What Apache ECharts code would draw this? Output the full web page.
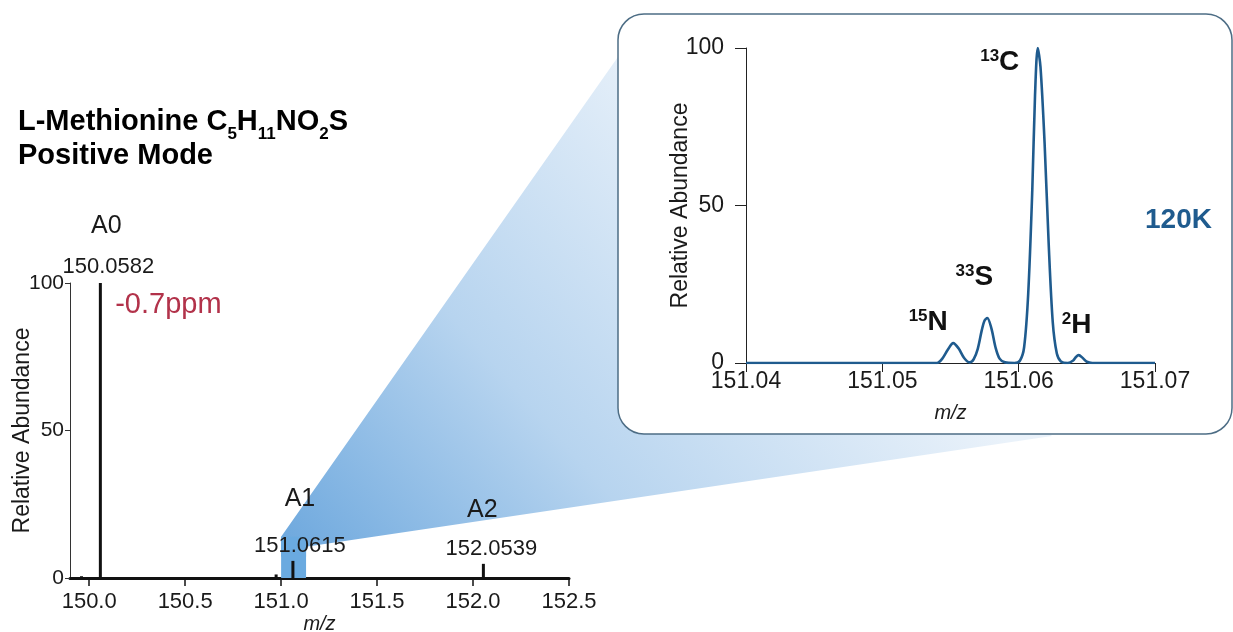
<!DOCTYPE html>
<html>
<head>
<meta charset="utf-8">
<script src="https://cdn.jsdelivr.net/npm/echarts@6/dist/echarts.min.js"></script>
<style>
  html, body { margin: 0; padding: 0; background: #fff; }
  #main { width: 1233px; height: 632px; }
</style>
</head>
<body>
<div id="main"></div>
<script>
// full spectrum, stick peaks
const mainMz = [149.96, 150.0582, 150.974, 151.0615, 152.0539];
const mainAbund = [0.6, 100, 1.2, 5.8, 4.8];
const peakNames = ['', 'A0', '', 'A1', 'A2'];
const peakMasses = ['', '150.0582', '', '151.0615', '152.0539'];
const mainXTicks = [150.0, 150.5, 151.0, 151.5, 152.0, 152.5];
const zoomBand = [151.0, 151.13];
const zoomBandTop = 14;

// zoomed A1 profile at 120K
const insetMz = [
  151.0400, 151.0540, 151.0544, 151.0548, 151.0552, 151.0556, 151.0560, 151.0564,
  151.0567, 151.0570, 151.0573, 151.0575, 151.0577, 151.0580, 151.0583, 151.0586,
  151.0590, 151.0597, 151.0601, 151.0604, 151.0607, 151.0610, 151.0612, 151.0614,
  151.0616, 151.0619, 151.0622, 151.0625, 151.0628, 151.0631, 151.0636, 151.0640,
  151.0642, 151.0644, 151.0647, 151.0650, 151.0654, 151.0700
];
const insetAbund = [
  0, 0, 1.4, 4.2, 6.3, 4.6, 1.6, 0.2,
  1.2, 4.5, 10.5, 13.5, 14.3, 11, 5, 1.4,
  0.2, 0, 0.8, 5, 22, 55, 85, 100,
  94, 70, 38, 13, 3, 0.5, 0, 0.8,
  1.9, 2.5, 1.6, 0.4, 0, 0
];
const insetXTicks = [151.04, 151.05, 151.06, 151.07];
const isotopeMass = ['15', '33', '13', '2'];
const isotopeElem = ['N', 'S', 'C', 'H'];
const isotopeMz = [151.0552, 151.0577, 151.0614, 151.0644];
const isotopeAbund = [6.3, 14.3, 100, 2.5];

const FONT = "'Liberation Sans', Arial, Helvetica, sans-serif";
const INK = '#1a1a1a';
const BLUE = '#1f5b8e';

const chart = echarts.init(document.getElementById('main'), null, { renderer: 'canvas' });

// label offsets (px) relative to the top of each peak
const nameOffset = { A0: [6, -57], A1: [7, -62], A2: [-1, -54] };
const massOffset = { A0: [8, -16], A1: [7, -15], A2: [8, -15] };
const isoOffset = [[-25, -21], [-13, -41], [-38, 14], [-2, -30]];

const mainMarks = [];
peakNames.forEach((n, i) => {
  if (!n) return;
  mainMarks.push({ coord: [mainMz[i], mainAbund[i]], label: { formatter: n, fontSize: 25, offset: nameOffset[n] } });
  mainMarks.push({ coord: [mainMz[i], mainAbund[i]], label: { formatter: peakMasses[i], fontSize: 22, offset: massOffset[n] } });
});
mainMarks.push({
  coord: [mainMz[1], mainAbund[1]],
  label: { formatter: '-0.7ppm', fontSize: 29, color: '#b2324a', offset: [68, 22] }
});

const isoMarks = isotopeElem.map((el, i) => ({
  coord: [isotopeMz[i], isotopeAbund[i]],
  label: { formatter: '{sup|' + isotopeMass[i] + '}{el|' + el + '}', offset: isoOffset[i] }
}));

function axisText(size) {
  return { color: INK, fontSize: size, fontFamily: FONT };
}

chart.setOption({
  animation: false,
  title: [
    {
      left: 13, top: 102,
      text: '{b|L-Methionine C}{s|5}{b|H}{s|11}{b|NO}{s|2}{b|S}',
      textStyle: {
        rich: {
          b: { fontSize: 29, fontWeight: 'bold', color: '#000', fontFamily: FONT, lineHeight: 28, verticalAlign: 'top' },
          s: { fontSize: 17, fontWeight: 'bold', color: '#000', fontFamily: FONT, lineHeight: 36, verticalAlign: 'bottom' }
        }
      }
    },
    {
      left: 13, top: 137,
      text: 'Positive Mode',
      textStyle: { fontSize: 29, fontWeight: 'bold', color: '#000', fontFamily: FONT, lineHeight: 28 }
    },
    {
      left: 1140, top: 201,
      text: '120K',
      textStyle: { fontSize: 28, fontWeight: 'bold', color: BLUE, fontFamily: FONT }
    }
  ],
  grid: [
    { left: 70, right: 664, top: 283, bottom: 54, outerBoundsMode: 'none' },
    { left: 746, right: 78, top: 48, bottom: 269, outerBoundsMode: 'none' }
  ],
  xAxis: [
    {
      gridIndex: 0, type: 'value', min: 149.9, max: 152.5,
      name: 'm/z', nameLocation: 'middle', nameGap: 36, nameMoveOverlap: false,
      nameTextStyle: { ...axisText(20), fontStyle: 'italic' },
      axisLine: { lineStyle: { color: '#111', width: 3 } },
      axisTick: { customValues: mainXTicks, length: 8, lineStyle: { color: '#111', width: 1.5 } },
      axisLabel: { customValues: mainXTicks, margin: 13, ...axisText(22), formatter: v => v.toFixed(1) },
      splitLine: { show: false }
    },
    {
      gridIndex: 1, type: 'value', min: 151.04, max: 151.07,
      name: 'm/z', nameLocation: 'middle', nameGap: 40, nameMoveOverlap: false,
      nameTextStyle: { ...axisText(20), fontStyle: 'italic' },
      axisLine: { lineStyle: { color: '#222', width: 1 } },
      axisTick: { customValues: insetXTicks, length: 9, lineStyle: { color: '#222' } },
      axisLabel: { customValues: insetXTicks, margin: 7, ...axisText(23), formatter: v => v.toFixed(2) },
      splitLine: { show: false }
    }
  ],
  yAxis: [
    {
      gridIndex: 0, type: 'value', min: 0, max: 100, interval: 50,
      name: 'Relative Abundance', nameLocation: 'middle', nameGap: 36, nameMoveOverlap: false,
      nameTextStyle: axisText(23),
      axisLine: { show: true, lineStyle: { color: '#333', width: 1 } },
      axisTick: { show: true, length: 5, lineStyle: { color: '#333' } },
      axisLabel: { margin: 6, ...axisText(21) },
      splitLine: { show: false }
    },
    {
      gridIndex: 1, type: 'value', min: 0, max: 100, interval: 50,
      name: 'Relative Abundance', nameLocation: 'middle', nameGap: 54, nameMoveOverlap: false,
      nameTextStyle: axisText(23),
      axisLine: { show: true, lineStyle: { color: '#222', width: 1 } },
      axisTick: { show: true, length: 11, lineStyle: { color: '#222' } },
      axisLabel: { margin: 22, ...axisText(23) },
      splitLine: { show: false }
    }
  ],
  series: [
    {
      type: 'bar', xAxisIndex: 0, yAxisIndex: 0,
      barWidth: 3,
      data: mainMz.map((m, i) => [m, mainAbund[i]]),
      itemStyle: { color: '#111' },
      z: 5,
      markArea: {
        silent: true,
        itemStyle: { color: '#6aaae0', opacity: 1 },
        data: [[{ coord: [zoomBand[0], 0] }, { coord: [zoomBand[1], zoomBandTop] }]]
      },
      markPoint: {
        symbol: 'circle', symbolSize: 1,
        itemStyle: { color: 'rgba(0,0,0,0)' },
        label: { show: true, position: 'inside', color: INK, fontFamily: FONT },
        data: mainMarks
      }
    },
    {
      type: 'line', xAxisIndex: 1, yAxisIndex: 1,
      data: insetMz.map((m, i) => [m, insetAbund[i]]),
      showSymbol: false, smooth: 0.3,
      lineStyle: { color: BLUE, width: 2.6 },
      z: 5,
      markPoint: {
        symbol: 'circle', symbolSize: 1,
        itemStyle: { color: 'rgba(0,0,0,0)' },
        label: {
          show: true, position: 'inside',
          rich: {
            sup: { fontSize: 17, fontWeight: 'bold', color: '#111', fontFamily: FONT, lineHeight: 16, verticalAlign: 'top' },
            el: { fontSize: 28, fontWeight: 'bold', color: '#111', fontFamily: FONT, lineHeight: 28, verticalAlign: 'top' }
          }
        },
        data: isoMarks
      }
    }
  ]
});

// zoom connector and inset frame, anchored on the highlighted band
const panel = { x: 618, y: 14, w: 614, h: 420, r: 26 };
const bandTL = chart.convertToPixel({ gridIndex: 0 }, [zoomBand[0], zoomBandTop]);
const bandTR = chart.convertToPixel({ gridIndex: 0 }, [zoomBand[1], zoomBandTop]);

chart.setOption({
  graphic: [
    {
      type: 'polygon', z: -20, silent: true,
      shape: {
        points: [
          [bandTL[0], bandTL[1]],
          [panel.x + 2, panel.y + 40],
          [1052, panel.y + panel.h + 2],
          [bandTR[0], bandTR[1] + 10],
          [bandTR[0], bandTR[1] + 20],
          [bandTL[0], bandTL[1] + 20]
        ]
      },
      style: {
        fill: new echarts.graphic.LinearGradient(bandTL[0], bandTL[1], panel.x + 120, panel.y + 120, [
          { offset: 0, color: '#6fa9de' },
          { offset: 0.45, color: '#b7d4ef' },
          { offset: 1, color: '#eaf2fa' }
        ], true)
      }
    },
    {
      type: 'rect', z: -10, silent: true,
      shape: { x: panel.x, y: panel.y, width: panel.w, height: panel.h, r: panel.r },
      style: { fill: '#fff', stroke: '#4d6d85', lineWidth: 1.5 }
    }
  ]
});
</script>
</body>
</html>
